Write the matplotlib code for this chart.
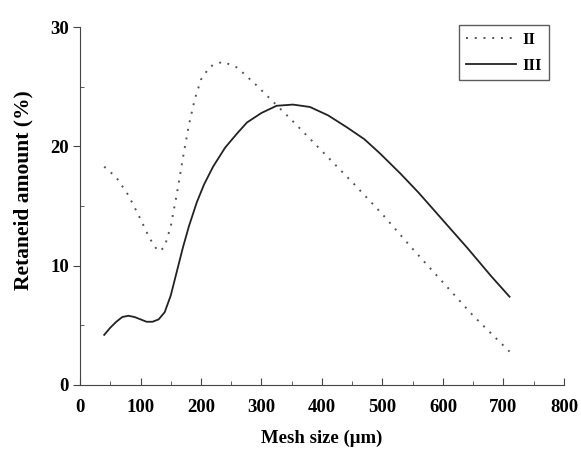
import numpy as np
import matplotlib.pyplot as plt
from matplotlib.ticker import MultipleLocator

# series II (dotted)
x_ii = [40, 60, 80, 100, 115, 125, 132, 140, 150, 160, 170, 180, 190, 200, 215,
        236, 260, 290, 320, 350, 400, 450, 500, 550, 600, 650, 710]
y_ii = [18.3, 17.4, 15.9, 13.9, 12.3, 11.5, 11.2, 11.6, 13.3, 16.0, 19.0, 21.8,
        24.0, 25.6, 26.7, 27.1, 26.6, 25.2, 23.7, 22.2, 19.6, 17.0, 14.3, 11.4,
        8.6, 5.8, 2.8]

# series III (solid)
x_iii = [40, 50, 60, 70, 80, 90, 100, 110, 120, 130, 140, 150, 160, 170, 180,
         193, 205, 220, 240, 260, 276, 300, 325, 352, 380, 410, 441, 470, 496,
         530, 560, 600, 640, 680, 710]
y_iii = [4.2, 4.8, 5.3, 5.7, 5.8, 5.7, 5.5, 5.3, 5.3, 5.5, 6.1, 7.5, 9.5, 11.5,
         13.3, 15.3, 16.8, 18.3, 19.9, 21.1, 22.0, 22.8, 23.4, 23.5, 23.3, 22.6,
         21.6, 20.6, 19.4, 17.7, 16.1, 13.8, 11.5, 9.1, 7.4]

plt.rcParams["font.family"] = ["Liberation Serif", "DejaVu Serif"]
plt.rcParams["font.weight"] = "bold"

fig = plt.figure(figsize=(5.81, 4.58), dpi=100)
ax = fig.add_axes([0.1377, 0.1594, 0.8330, 0.7816])

ax.plot(x_ii, y_ii, color="#555555", linestyle=(0, (1, 3.5)), linewidth=1.4, label="II")
ax.plot(x_iii, y_iii, color="#222222", linestyle="-", linewidth=1.3, label="III")

ax.set_xlim(0, 800)
ax.set_ylim(0, 30)
ax.xaxis.set_major_locator(MultipleLocator(100))
ax.xaxis.set_minor_locator(MultipleLocator(50))
ax.yaxis.set_major_locator(MultipleLocator(10))
ax.yaxis.set_minor_locator(MultipleLocator(5))

for side in ["top", "right"]:
    ax.spines[side].set_visible(False)
ax.spines["left"].set_color("#444444")
ax.spines["bottom"].set_color("#444444")

ax.tick_params(axis="x", which="major", direction="in", length=5, labelsize=13.5, pad=10, color="#444444")
ax.tick_params(axis="x", which="minor", direction="in", length=3, color="#444444")
ax.tick_params(axis="y", which="major", direction="out", length=5, labelsize=13.5, pad=3, color="#444444")
ax.tick_params(axis="y", which="minor", direction="in", length=3, color="#444444")
for lab in ax.get_xticklabels() + ax.get_yticklabels():
    lab.set_fontweight("bold")

ax.set_xlabel("Mesh size (μm)", fontsize=13.5, fontweight="bold", labelpad=10)
ax.set_ylabel("Retaneid amount (%)", fontsize=15.5, fontweight="bold")
ax.yaxis.set_label_coords(-0.097, 0.545)

leg = ax.legend(loc="upper right", bbox_to_anchor=(0.969, 1.006), frameon=True,
                fancybox=False, edgecolor="#333333", handlelength=3.0,
                fontsize=12, borderpad=0.4, labelspacing=0.6, handletextpad=0.4,
                borderaxespad=0)
leg.get_frame().set_linewidth(1.0)

fig.savefig("out.png", dpi=100)
